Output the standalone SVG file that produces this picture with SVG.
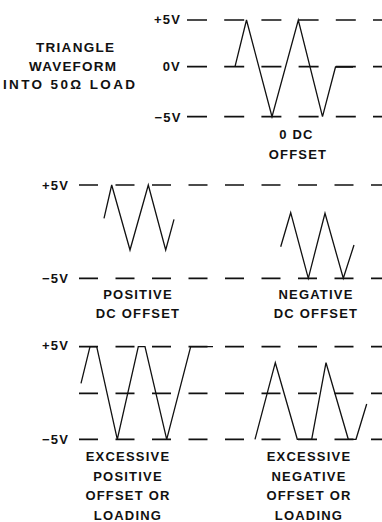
<svg xmlns="http://www.w3.org/2000/svg" width="382" height="522" viewBox="0 0 382 522">
<style>
text{font-family:"Liberation Sans",Arial,sans-serif;font-weight:bold;font-size:13px;letter-spacing:1.2px;fill:#111}
.t{font-size:13.5px;letter-spacing:1px}
.c{text-anchor:middle}
.v{text-anchor:end}
.d1{stroke:#111;stroke-width:1.7;fill:none;stroke-dasharray:20 17.2}
.d2{stroke:#111;stroke-width:1.7;fill:none;stroke-dasharray:19 17.5}
.w{stroke:#111;stroke-width:1.3;fill:none;stroke-linejoin:miter}
</style>
<rect width="382" height="522" fill="#fff"/>
<g id="title">
<text class="t" x="36" y="52" textLength="79">TRIANGLE</text>
<text class="t" x="29" y="70.5" textLength="88">WAVEFORM</text>
<text class="t" x="3" y="89" textLength="133">INTO 50Ω LOAD</text>
</g>
<g id="panel1">
<text class="v" x="181" y="23.5">+5V</text>
<text class="v" x="181" y="71">0V</text>
<text class="v" x="181.5" y="121.5">−5V</text>
<path class="d1" d="M187,20H382M187,66.7H382M187,116.7H382"/>
<path class="w" d="M235,66.7L246.5,20L272,116.7L298.3,20L322.5,116.7L335.5,67H353"/>
<text class="c" x="296.5" y="138.5">0 DC</text>
<text class="c" x="298" y="158.5">OFFSET</text>
</g>
<g id="panel2">
<text class="v" x="69" y="189.5">+5V</text>
<text class="v" x="69" y="283">−5V</text>
<path class="d2" d="M79,185H382M79,278.3H382"/>
<path class="w" d="M104,218.3L111.7,185L130,250L148.3,185L165.7,250L174,219.3"/>
<path class="w" d="M280.7,246.7L290.7,212.7L308.3,278.3L325,213.3L343.3,278.3L354,245"/>
<text class="c" x="138" y="298.5">POSITIVE</text>
<text class="c" x="138" y="318">DC OFFSET</text>
<text class="c" x="316" y="298.5">NEGATIVE</text>
<text class="c" x="316" y="318">DC OFFSET</text>
</g>
<g id="panel3">
<text class="v" x="69" y="350">+5V</text>
<text class="v" x="69" y="443.5">−5V</text>
<path class="d2" d="M79,346.7H382M79,393.3H382M79,439.3H382"/>
<path class="w" d="M81,383.3L90,346.7H96.7L117.3,439.3L138.3,346.7H145L166.7,439.3L190.7,346.7H213"/>
<path class="w" d="M255,439.3L275.3,362.7L297.3,439.3H311.7L326,362.7L348.3,439.3H356L366.7,404"/>
<text class="c" x="128" y="461">EXCESSIVE</text>
<text class="c" x="128" y="480.5">POSITIVE</text>
<text class="c" x="128" y="500">OFFSET OR</text>
<text class="c" x="128" y="520">LOADING</text>
<text class="c" x="309" y="461">EXCESSIVE</text>
<text class="c" x="309" y="480.5">NEGATIVE</text>
<text class="c" x="309" y="500">OFFSET OR</text>
<text class="c" x="309" y="520">LOADING</text>
</g>
</svg>
